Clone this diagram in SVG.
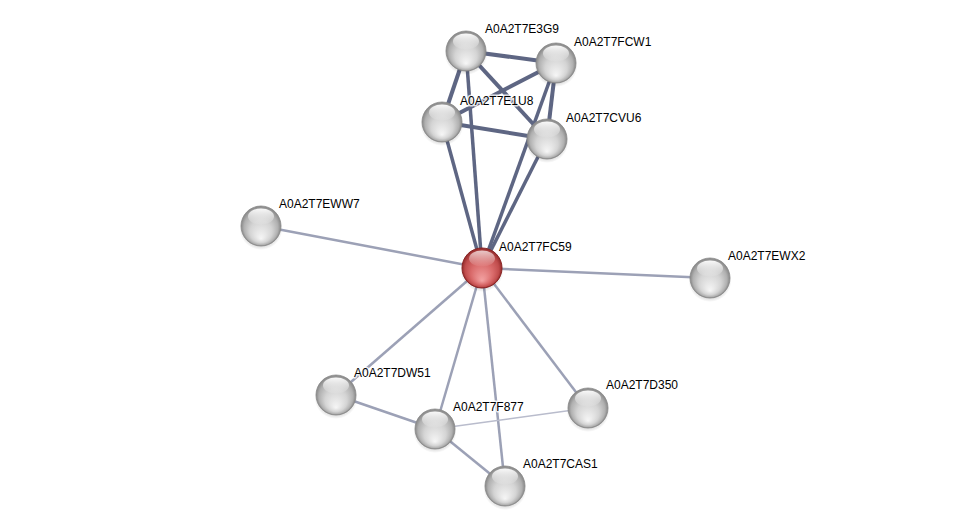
<svg xmlns="http://www.w3.org/2000/svg" width="975" height="531" viewBox="0 0 975 531">
<defs>
<radialGradient id="gGray" cx="50%" cy="50%" r="50%" fx="50%" fy="82%">
<stop offset="0" stop-color="#f6f6f6"/>
<stop offset="0.55" stop-color="#d4d4d4"/>
<stop offset="0.85" stop-color="#b0b0b0"/>
<stop offset="1" stop-color="#868686"/>
</radialGradient>
<radialGradient id="gRed" cx="50%" cy="50%" r="50%" fx="50%" fy="82%">
<stop offset="0" stop-color="#f3a3a3"/>
<stop offset="0.55" stop-color="#d96a6a"/>
<stop offset="0.85" stop-color="#c04c4c"/>
<stop offset="1" stop-color="#922a2a"/>
</radialGradient>
<linearGradient id="gHi" x1="0" y1="0" x2="0" y2="1">
<stop offset="0" stop-color="#ffffff" stop-opacity="0.95"/>
<stop offset="1" stop-color="#ffffff" stop-opacity="0.05"/>
</linearGradient>
<radialGradient id="gShadow" cx="50%" cy="50%" r="50%">
<stop offset="0.7" stop-color="#000" stop-opacity="0.22"/>
<stop offset="1" stop-color="#000" stop-opacity="0"/>
</radialGradient>
<g id="sphere">
<circle cx="0" cy="2.5" r="21.5" fill="url(#gShadow)"/>
<circle r="20" fill="url(#gGray)" stroke="#8c8c8c" stroke-width="0.8"/>
<ellipse cx="0" cy="-9.5" rx="13" ry="8" fill="url(#gHi)"/>
</g>
<g id="sphereRed">
<circle cx="0" cy="2.5" r="21.5" fill="url(#gShadow)"/>
<circle r="20" fill="url(#gRed)" stroke="#8a2424" stroke-width="1"/>
<ellipse cx="0" cy="-9.5" rx="13" ry="8" fill="url(#gHi)" opacity="0.75"/>
</g>
</defs>
<style>
.e1{stroke:#5e6683;stroke-width:4;fill:none}
.e2{stroke:#5e6683;stroke-width:3.5;fill:none}
.e3{stroke:#9ca1b6;stroke-width:2.5;fill:none}
.e4{stroke:#b9bccc;stroke-width:1.5;fill:none}
text{font-family:"Liberation Sans",Arial,sans-serif;font-size:12px;fill:#000;stroke:#fff;stroke-width:3;stroke-opacity:0.8;paint-order:stroke;stroke-linejoin:round}
</style>
<rect width="975" height="531" fill="#ffffff"/>
<g id="connectors">
<line class="e1" x1="466" y1="51" x2="556" y2="63"/>
<line class="e1" x1="466" y1="51" x2="442" y2="122"/>
<line class="e1" x1="466" y1="51" x2="547" y2="139"/>
<line class="e1" x1="556" y1="63" x2="442" y2="122"/>
<line class="e1" x1="556" y1="63" x2="547" y2="139"/>
<line class="e1" x1="442" y1="122" x2="547" y2="139"/>
<line class="e2" x1="466" y1="51" x2="482" y2="268"/>
<line class="e2" x1="556" y1="63" x2="482" y2="268"/>
<line class="e2" x1="442" y1="122" x2="482" y2="268"/>
<line class="e2" x1="547" y1="139" x2="482" y2="268"/>
<line class="e3" x1="482" y1="268" x2="261" y2="226"/>
<line class="e3" x1="482" y1="268" x2="710" y2="278"/>
<line class="e3" x1="482" y1="268" x2="336" y2="395"/>
<line class="e3" x1="482" y1="268" x2="435" y2="429"/>
<line class="e3" x1="482" y1="268" x2="505" y2="486"/>
<line class="e3" x1="482" y1="268" x2="588" y2="408"/>
<line class="e3" x1="336" y1="395" x2="435" y2="429"/>
<line class="e3" x1="435" y1="429" x2="505" y2="486"/>
<line class="e4" x1="435" y1="429" x2="588" y2="408"/>
</g>
<g id="n-E3G9"><use href="#sphere" x="466" y="51"/><text x="485" y="33">A0A2T7E3G9</text></g>
<g id="n-FCW1"><use href="#sphere" x="556" y="63"/><text x="574" y="46">A0A2T7FCW1</text></g>
<g id="n-E1U8"><use href="#sphere" x="442" y="122"/><text x="460" y="105">A0A2T7E1U8</text></g>
<g id="n-CVU6"><use href="#sphere" x="547" y="139"/><text x="566" y="122">A0A2T7CVU6</text></g>
<g id="n-FC59"><use href="#sphereRed" x="482" y="268"/><text x="499" y="251">A0A2T7FC59</text></g>
<g id="n-EWW7"><use href="#sphere" x="261" y="226"/><text x="279" y="208">A0A2T7EWW7</text></g>
<g id="n-EWX2"><use href="#sphere" x="710" y="278"/><text x="728" y="260">A0A2T7EWX2</text></g>
<g id="n-DW51"><use href="#sphere" x="336" y="395"/><text x="354" y="377">A0A2T7DW51</text></g>
<g id="n-F877"><use href="#sphere" x="435" y="429"/><text x="453" y="411">A0A2T7F877</text></g>
<g id="n-D350"><use href="#sphere" x="588" y="408"/><text x="606" y="389">A0A2T7D350</text></g>
<g id="n-CAS1"><use href="#sphere" x="505" y="486"/><text x="523" y="468">A0A2T7CAS1</text></g>
</svg>
